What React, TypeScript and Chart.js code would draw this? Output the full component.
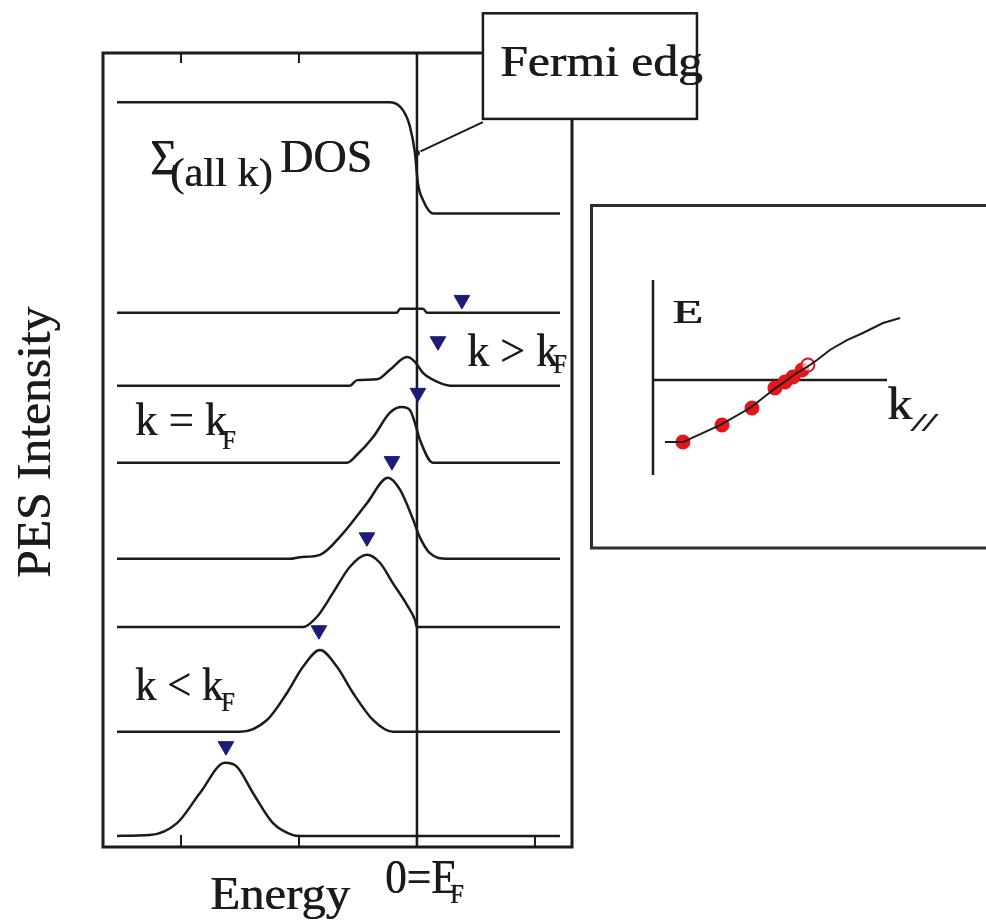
import React, { useEffect, useLayoutEffect, useRef, useState } from "react";
import { Chart, registerables } from "chart.js";

Chart.register(...registerables);

// ---------- data ----------
const energyTicks = [-2, -1, 0, 1];

const dosEnergy = [-2.542, -0.229, -0.119, -0.059, -0.017, 0.008, 0.051, 0.136, 1.212];
const dosIntensity = [93.8, 93.8, 92.8, 90.7, 87.4, 83.6, 81.5, 79.8, 79.8];

const edc1Energy = [-2.542, -0.169, -0.144, 0.051, 0.085, 1.212];
const edc1Intensity = [67.3, 67.3, 67.8, 67.8, 67.3, 67.3];

const edc2Energy = [-2.542, -0.568, -0.508, -0.339, -0.229, -0.085, -0.017, 0.051, 0.169, 0.28, 1.212];
const edc2Intensity = [58.1, 58.1, 58.8, 58.9, 60.1, 61.7, 61.1, 59.7, 58.6, 58.1, 58.1];

const edc3Energy = [-2.542, -0.593, -0.508, -0.373, -0.229, -0.127, -0.059, -0.017, 0.025, 0.136, 1.212];
const edc3Intensity = [48.4, 48.4, 49.4, 51.6, 54.7, 55.4, 55.0, 53.4, 51.3, 48.4, 48.4];

const edc4Energy = [-2.542, -1.076, -0.992, -0.822, -0.627, -0.424, -0.246, -0.144, -0.042, 0.025, 0.11, 0.254, 1.212];
const edc4Intensity = [36.3, 36.3, 36.5, 36.8, 39.5, 43.3, 46.5, 45.0, 41.6, 39.0, 37.0, 36.3, 36.3];

const edc5Energy = [-2.542, -0.966, -0.847, -0.712, -0.568, -0.424, -0.314, -0.203, -0.085, -0.017, 0.0, 1.212];
const edc5Intensity = [27.7, 27.7, 29.0, 32.0, 35.3, 36.8, 35.8, 33.2, 30.5, 28.6, 27.7, 27.7];

const edc6Energy = [-2.542, -1.5, -1.271, -1.102, -0.966, -0.822, -0.678, -0.542, -0.373, -0.203, 1.212];
const edc6Intensity = [14.5, 14.5, 16.0, 19.4, 22.7, 24.8, 22.7, 19.4, 16.0, 14.5, 14.5];

const edc7Energy = [-2.542, -2.263, -2.034, -1.839, -1.627, -1.525, -1.39, -1.22, -1.051, -0.992, 1.212];
const edc7Intensity = [1.4, 1.5, 3.0, 6.8, 10.6, 10.1, 6.8, 3.0, 1.5, 1.4, 1.4];

const peakEnergy = [0.381, 0.178, 0.008, -0.212, -0.424, -0.831, -1.619];
const peakIntensity = [68.9, 63.7, 57.2, 48.6, 39.0, 27.3, 12.7];

// inset: E(k) dispersion
const bandK = [0.051, 0.128, 0.286, 0.415, 0.513, 0.573, 0.615, 0.658, 0.701, 0.756, 0.829, 0.897, 0.983, 1.056, 1.141];
const bandE = [-0.653, -0.653, -0.474, -0.295, -0.105, 0, 0.074, 0.137, 0.211, 0.316, 0.421, 0.495, 0.6, 0.653, 0.653];
const dotK = [0.128, 0.295, 0.423, 0.521, 0.564, 0.598, 0.637, 0.662];
const dotE = [-0.653, -0.474, -0.295, -0.084, -0.021, 0.032, 0.105, 0.158];
const dotFilled = [true, true, true, true, true, true, true, false];

// ---------- styles ----------
const INK = "#1b1b1b";
const NAVY = "#1c1c78";
const RED = "#e3161c";
const SERIF = '"Liberation Serif", "Times New Roman", serif';

type Label = { text: string; x: number; y: number; size: number; width: number; italic?: boolean; rotate?: boolean };

const toXY = (xs: number[], ys: number[]) => xs.map((x, i) => ({ x, y: ys[i] }));

export default function App() {
  const mainRef = useRef<HTMLCanvasElement>(null);
  const insetRef = useRef<HTMLCanvasElement>(null);
  const spanRefs = useRef<(HTMLSpanElement | null)[]>([]);
  const [labels, setLabels] = useState<Label[]>([]);

  useEffect(() => {
    const curves = [
      [dosEnergy, dosIntensity],
      [edc1Energy, edc1Intensity],
      [edc2Energy, edc2Intensity],
      [edc3Energy, edc3Intensity],
      [edc4Energy, edc4Intensity],
      [edc5Energy, edc5Intensity],
      [edc6Energy, edc6Intensity],
      [edc7Energy, edc7Intensity],
    ];

    const mainPlugin = {
      id: "pesDecor",
      beforeDatasetsDraw(chart: any) {
        const { ctx, chartArea, scales } = chart;
        const x0 = scales.x.getPixelForValue(0);
        ctx.save();
        ctx.strokeStyle = INK;
        ctx.lineWidth = 2.5;
        ctx.beginPath();
        ctx.moveTo(x0, chartArea.top);
        ctx.lineTo(x0, chartArea.bottom);
        ctx.stroke();
        ctx.restore();
      },
      afterDatasetsDraw(chart: any) {
        const { ctx, chartArea, scales } = chart;
        const px = (e: number) => scales.x.getPixelForValue(e);
        const py = (v: number) => scales.y.getPixelForValue(v);
        ctx.save();
        ctx.strokeStyle = INK;
        ctx.lineWidth = 3;
        ctx.strokeRect(chartArea.left, chartArea.top, chartArea.right - chartArea.left, chartArea.bottom - chartArea.top);
        ctx.lineWidth = 2;
        for (const t of energyTicks) {
          const x = px(t);
          ctx.beginPath();
          ctx.moveTo(x, chartArea.top);
          ctx.lineTo(x, chartArea.top + 10);
          ctx.moveTo(x, chartArea.bottom);
          ctx.lineTo(x, chartArea.bottom - 12);
          ctx.stroke();
        }
        const bx0 = px(0.559), bx1 = px(2.373), by0 = py(105.0), by1 = py(91.7);
        ctx.fillStyle = "#ffffff";
        ctx.fillRect(bx0, by0, bx1 - bx0, by1 - by0);
        ctx.lineWidth = 2.5;
        ctx.strokeRect(bx0, by0, bx1 - bx0, by1 - by0);
        ctx.lineWidth = 2;
        ctx.beginPath();
        ctx.moveTo(px(0.559), py(91.3));
        ctx.lineTo(px(0.03), py(87.6));
        ctx.stroke();
        ctx.fillStyle = INK;
        ctx.beginPath();
        ctx.arc(px(0.0), py(87.4), 3, 0, Math.PI * 2);
        ctx.fill();
        ctx.restore();
      },
    };

    const main = new Chart(mainRef.current!, {
      type: "line",
      data: {
        datasets: [
          ...curves.map(([e, v]) => ({
            data: toXY(e, v),
            borderColor: INK,
            borderWidth: 2.5,
            pointRadius: 0,
            cubicInterpolationMode: "monotone" as const,
            fill: false,
          })),
          {
            data: toXY(peakEnergy, peakIntensity),
            showLine: false,
            pointStyle: "triangle",
            rotation: 180,
            pointRadius: 9,
            pointBackgroundColor: NAVY,
            pointBorderColor: NAVY,
            pointBorderWidth: 1,
          },
        ],
      },
      options: {
        animation: false,
        responsive: false,
        maintainAspectRatio: false,
        layout: { padding: { left: 103, right: 414, top: 53, bottom: 76 } },
        plugins: { legend: { display: false }, tooltip: { enabled: false } },
        scales: {
          x: { type: "linear", min: -2.661, max: 1.314, display: false },
          y: { type: "linear", min: 0, max: 100, display: false },
        },
      },
      plugins: [mainPlugin],
    } as any);

    const insetPlugin = {
      id: "insetDecor",
      beforeDatasetsDraw(chart: any) {
        const { ctx, chartArea, scales } = chart;
        ctx.save();
        ctx.fillStyle = "#ffffff";
        ctx.fillRect(591, 205, 420, 343);
        ctx.strokeStyle = "#2e2e2e";
        ctx.lineWidth = 3;
        ctx.strokeRect(591.5, 205.5, 420, 342.5);
        const x0 = scales.x.getPixelForValue(0);
        const y0 = scales.y.getPixelForValue(0);
        ctx.strokeStyle = INK;
        ctx.lineWidth = 2.5;
        ctx.beginPath();
        ctx.moveTo(x0, chartArea.top);
        ctx.lineTo(x0, chartArea.bottom);
        ctx.moveTo(x0, y0);
        ctx.lineTo(chartArea.right, y0);
        ctx.stroke();
        ctx.restore();
      },
    };

    const inset = new Chart(insetRef.current!, {
      type: "line",
      data: {
        datasets: [
          {
            data: toXY(bandK, bandE),
            borderColor: INK,
            borderWidth: 2,
            pointRadius: 0,
            tension: 0,
            clip: false,
            fill: false,
          },
          {
            data: toXY(dotK, dotE),
            showLine: false,
            pointStyle: "circle",
            pointRadius: 6.5,
            pointBackgroundColor: dotFilled.map((f) => (f ? RED : "rgba(255,255,255,0.6)")),
            pointBorderColor: RED,
            pointBorderWidth: 2,
            clip: false,
          },
        ],
      },
      options: {
        animation: false,
        responsive: false,
        maintainAspectRatio: false,
        layout: { padding: { left: 653, right: 99, top: 280, bottom: 448 } },
        plugins: { legend: { display: false }, tooltip: { enabled: false } },
        scales: {
          x: { type: "linear", min: 0, max: 1, display: false },
          y: { type: "linear", min: -1, max: 1.053, display: false },
        },
      },
      plugins: [insetPlugin],
    } as any);

    const mx = (e: number) => main.scales.x.getPixelForValue(e);
    const my = (v: number) => main.scales.y.getPixelForValue(v);
    const ix = (k: number) => inset.scales.x.getPixelForValue(k);
    const iy = (e: number) => inset.scales.y.getPixelForValue(e);
    setLabels([
      { text: "Fermi edg", x: mx(0.703), y: my(97.0), size: 44, width: 203 },
      { text: "Σ", x: mx(-2.263), y: my(84.8), size: 50, width: 27 },
      { text: "(all k)", x: mx(-2.093), y: my(83.2), size: 40, width: 103 },
      { text: "DOS", x: mx(-1.161), y: my(85.0), size: 46, width: 92 },
      { text: "k > k", x: mx(0.424), y: my(60.5), size: 46, width: 91 },
      { text: "F", x: mx(1.153), y: my(59.7), size: 28, width: 14 },
      { text: "k = k", x: mx(-2.39), y: my(51.8), size: 46, width: 92 },
      { text: "F", x: mx(-1.652), y: my(50.1), size: 28, width: 14 },
      { text: "k < k", x: mx(-2.39), y: my(18.5), size: 46, width: 88 },
      { text: "F", x: mx(-1.661), y: my(17.1), size: 28, width: 14 },
      { text: "0=E", x: mx(-0.271), y: my(-5.8), size: 48, width: 72 },
      { text: "F", x: mx(0.28), y: my(-7.05), size: 28, width: 14 },
      { text: "Energy", x: mx(-1.754), y: my(-7.9), size: 46, width: 140 },
      { text: "PES Intensity", x: main.chartArea.left - 53, y: my(33.9), size: 49, width: 271, rotate: true },
      { text: "E", x: ix(0.081), y: iy(0.6), size: 34, width: 31 },
      { text: "k", x: ix(1.0), y: iy(-0.42), size: 46, width: 25 },
      { text: "//", x: ix(1.107), y: iy(-0.55), size: 26, width: 22, italic: true },
    ]);

    return () => {
      main.destroy();
      inset.destroy();
    };
  }, []);

  useLayoutEffect(() => {
    labels.forEach((l, i) => {
      const el = spanRefs.current[i];
      if (!el) return;
      const w = el.offsetWidth;
      if (w > 0) el.style.transform = `scaleX(${l.width / w})`;
    });
  }, [labels]);

  return (
    <div style={{ position: "absolute", left: 0, top: 0, width: 986, height: 923, overflow: "hidden", background: "#fff" }}>
      <canvas ref={mainRef} width={986} height={923} style={{ position: "absolute", left: 0, top: 0 }} />
      <canvas ref={insetRef} width={986} height={923} style={{ position: "absolute", left: 0, top: 0 }} />
      {labels.map((l, i) => (
        <div
          key={i}
          style={{
            position: "absolute",
            left: l.x,
            top: l.y,
            width: 0,
            height: 0,
            transform: l.rotate ? "rotate(-90deg)" : "none",
            transformOrigin: "0 0",
          }}
        >
          <span
            ref={(el) => {
              spanRefs.current[i] = el;
            }}
            style={{
              position: "absolute",
              left: 0,
              top: -0.8375 * l.size,
              display: "inline-block",
              whiteSpace: "nowrap",
              fontFamily: SERIF,
              fontSize: l.size,
              fontStyle: l.italic ? "italic" : "normal",
              lineHeight: `${l.size}px`,
              color: INK,
              textShadow: `0.6px 0 0 ${INK}`,
              transformOrigin: "0 50%",
            }}
          >
            {l.text}
          </span>
        </div>
      ))}
    </div>
  );
}
